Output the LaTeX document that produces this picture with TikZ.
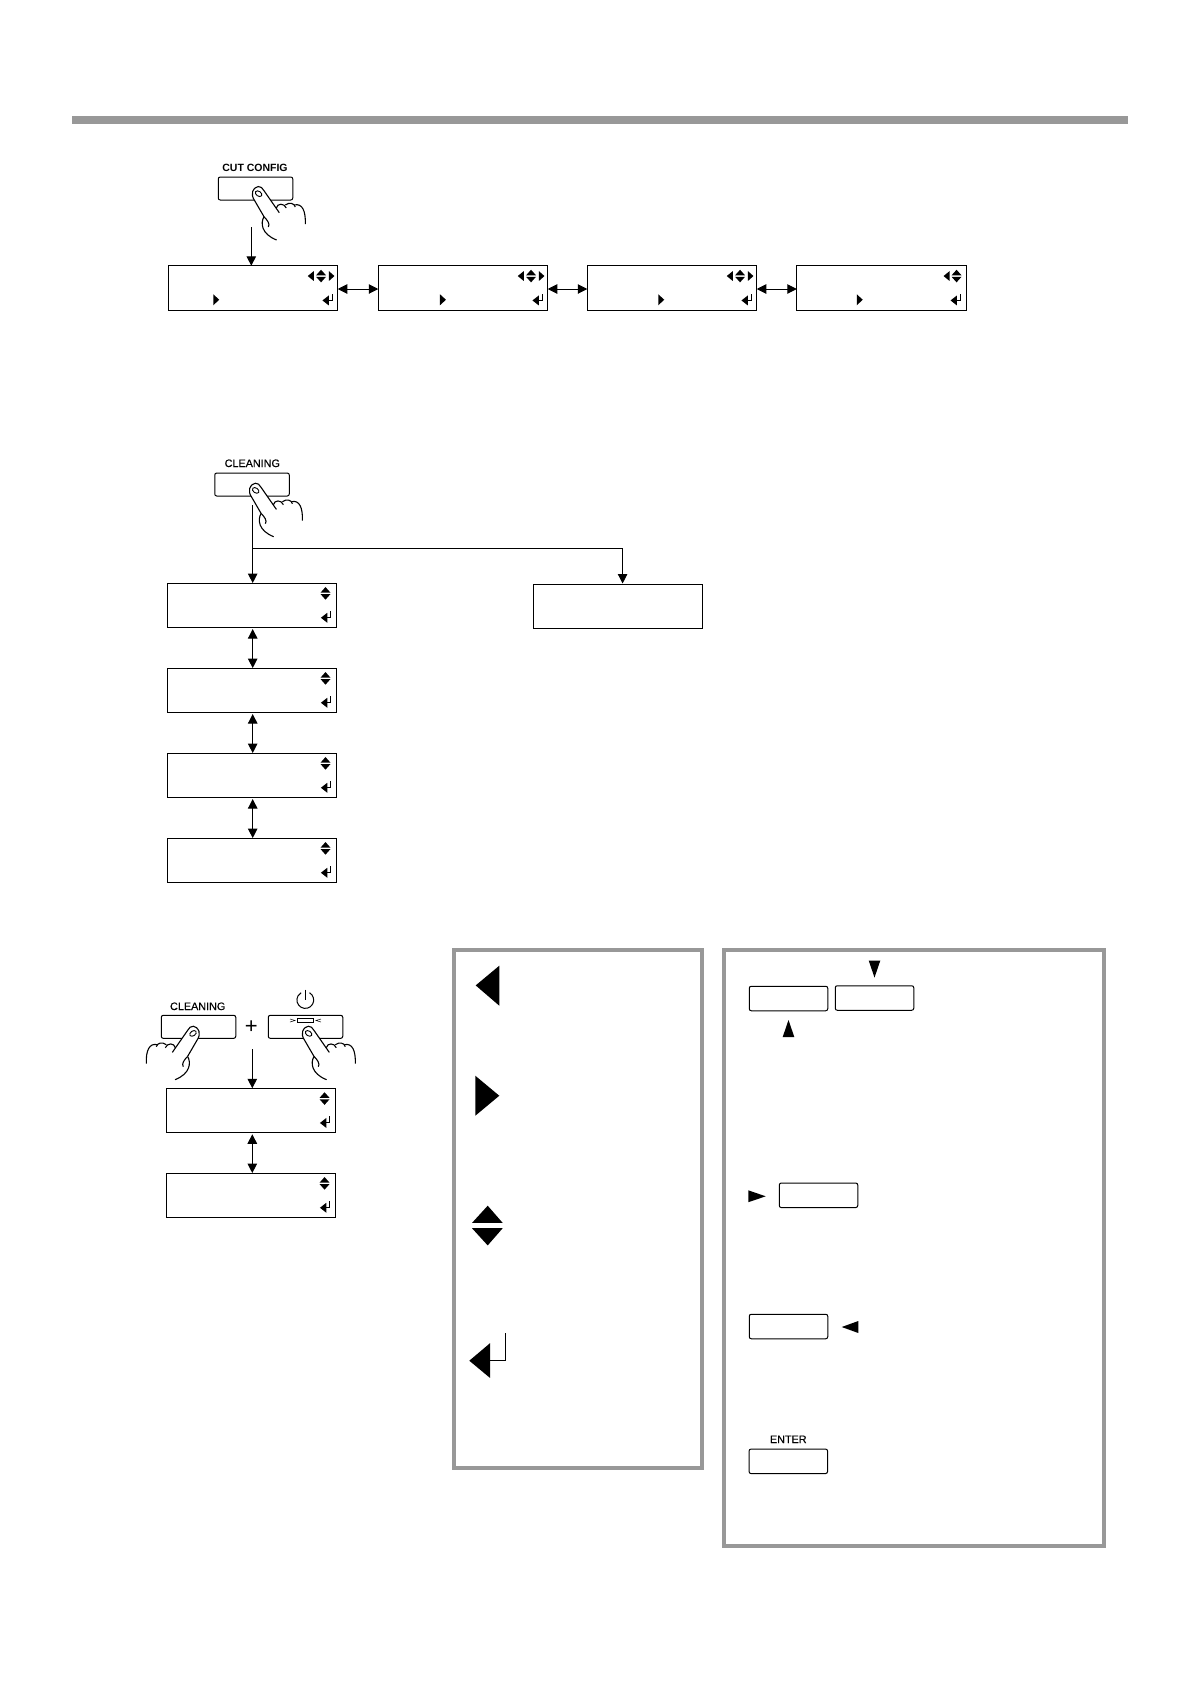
\documentclass[tikz,border=0pt]{standalone}
\usepackage{fontspec}
\setmainfont{Liberation Sans}
\newfontfamily\keyfont[FakeBold=0.4]{Liberation Sans}
\usetikzlibrary{arrows.meta}
\definecolor{framegray}{HTML}{989898}
\tikzset{
  lcd/.style={draw, line width=1pt, minimum width=169.5pt, minimum height=44.5pt, inner sep=0pt, outer sep=0pt},
  keybox/.style={draw, line width=1pt, rounded corners=2pt, minimum width=78.5pt, minimum height=24.5pt, inner sep=0pt, outer sep=0pt},
  panelkey/.style={keybox, minimum width=74.5pt, minimum height=23pt, fill=white},
  keytext/.style={font=\keyfont\fontsize{10.8}{12}\selectfont, inner sep=0pt},
  frame/.style={draw=framegray, line width=4pt, inner sep=0pt, outer sep=0pt},
  arr/.style={line width=1pt, -{Triangle[length=9.5pt,width=9.5pt]}},
  dbl/.style={line width=1pt, {Triangle[length=9.5pt,width=9.5pt]}-{Triangle[length=9.5pt,width=9.5pt]}},
  % hand pressing a key, origin at the finger tip
  presshand/.pic={
    \filldraw[fill=white, line width=1.1pt] (21,26.7) -- (5.7,4.7) .. controls (3,-1) and (-3,-1) .. (-5.7,5.7)
      .. controls (-6,9) and (-6,11) .. (-5,12.3) -- (5.7,30.7);
    \draw[line width=1.1pt] (5.7,30.7) .. controls (2,37) and (3,48) .. (18.3,54); % palm
    \draw[line width=1.1pt] (5.7,30.7) .. controls (9,34) and (12,38) .. (10,41);
    \draw[line width=1.1pt] (18,22) .. controls (19,17) and (26,17) .. (28,22);
    \draw[line width=1.1pt] (27,19) .. controls (31,16) and (36,17) .. (37,21);
    \draw[line width=1.1pt] (36,19) .. controls (44,17) and (47.5,25) .. (47,38);
    \draw[line width=.9pt, rotate around={-35:(0.3,7.7)}] (0.3,7.7) ellipse [x radius=3.6, y radius=2.4]; % nail
  },
  % marks in the corners of a display, origin at its north east corner
  leftmark/.pic={\fill (0,10.3) -- (6,5.4) -- (6,15.2) -- cycle;},
  rightmark/.pic={\fill (0,5.4) -- (0,15.2) -- (5.5,10.3) -- cycle;},
  updownmark/.pic={
    \fill (-5,9.6) -- (0,4) -- (5,9.6) -- cycle;
    \fill (-5,11) -- (0,16.6) -- (5,11) -- cycle;
  },
  entermark/.pic={
    \fill (0,34.7) -- (6.4,29.7) -- (6.4,39.7) -- cycle;
    \draw[line width=1pt] (6.4,34.7) -- (10,34.7) -- (10,28);
  },
  midmark/.pic={\fill (0,28.5) -- (0,39.5) -- (6,34) -- cycle;},
}
\begin{document}
\begin{tikzpicture}[x=1pt, y=-1pt]
  \useasboundingbox (0,0) rectangle (1190,1684);
  \fill[framegray] (72,116) rectangle (1128,124); % top rule

  % cut config
  \node[lcd] (cut1) at (253,288) {};
  \node[lcd] (cut2) at (463,288) {};
  \node[lcd] (cut3) at (672,288) {};
  \node[lcd] (cut4) at (881.5,288) {};
  \foreach \n in {cut1,cut2,cut3} {
    \pic at ([xshift=-30pt]\n.north east) {leftmark};
    \pic at ([xshift=-16.7pt]\n.north east) {updownmark};
    \pic at ([xshift=-8.8pt]\n.north east) {rightmark};
    \pic at ([xshift=-15.3pt]\n.north east) {entermark};
  }
  \pic at ([xshift=-22.7pt]cut4.north east) {leftmark};
  \pic at ([xshift=-9.7pt]cut4.north east) {updownmark};
  \pic at ([xshift=-15.7pt]cut4.north east) {entermark};
  \pic at ([xshift=45pt]cut1.north west) {midmark};
  \pic at ([xshift=61.7pt]cut2.north west) {midmark};
  \pic at ([xshift=71pt]cut3.north west) {midmark};
  \pic at ([xshift=60pt]cut4.north west) {midmark};
  \draw[dbl] ([yshift=-1pt]cut1.east) -- ([yshift=-1pt]cut2.west);
  \draw[dbl] ([yshift=-1pt]cut2.east) -- ([yshift=-1pt]cut3.west);
  \draw[dbl] ([yshift=-1pt]cut3.east) -- ([yshift=-1pt]cut4.west);
  \node[panelkey] (cutkey) at (255.5,188.5) {};
  \node[keytext, font=\fontsize{10.5}{12}\selectfont\bfseries] (cutlabel) at (255,167.5) {CUT CONFIG};
  \coordinate (cutstart) at (251.3,227.3);
  \draw[arr] (cutstart) -- (cutstart |- cut1.north);
  \pic at (258.3,186) {presshand};

  % cleaning
  \node[lcd, minimum width=169pt] (menu1) at (252.2,605.3) {};
  \node[lcd, minimum width=169pt] (menu2) at (252.2,690.3) {};
  \node[lcd, minimum width=169pt] (menu3) at (252.2,775.3) {};
  \node[lcd, minimum width=169pt] (menu4) at (252.2,860.3) {};
  \node[lcd, minimum width=169pt] (menu5) at (617.7,606.3) {};
  \foreach \n in {menu1,menu2,menu3,menu4} {
    \pic at ([xshift=-11.2pt]\n.north east) {updownmark};
    \pic at ([xshift=-15.8pt]\n.north east) {entermark};
  }
  \draw[dbl] ([xshift=.5pt,yshift=-1.5pt]menu1.south) -- ([xshift=.5pt]menu2.north);
  \draw[dbl] ([xshift=.5pt,yshift=-1.5pt]menu2.south) -- ([xshift=.5pt]menu3.north);
  \draw[dbl] ([xshift=.5pt,yshift=-1.5pt]menu3.south) -- ([xshift=.5pt]menu4.north);
  \coordinate (cleanstart) at (252.7,505);
  \coordinate (cleanfork) at (252.7,548.3);
  \draw[arr] (cleanstart) -- (cleanstart |- menu1.north);
  \draw[arr] (cleanfork) -- (622.6,548.3) -- (622.6,583.5);
  \node[panelkey] (cleankey) at (252,484.5) {};
  \node[keytext] (cleanlabel) at (252.3,463.3) {CLEANING};
  \pic at (255.4,482.7) {presshand};

  % cleaning plus power
  \node[lcd] (start1) at (251,1110.5) {};
  \node[lcd] (start2) at (251,1195.3) {};
  \foreach \n in {start1,start2} {
    \pic at ([xshift=-11.2pt]\n.north east) {updownmark};
    \pic at ([xshift=-15.8pt]\n.north east) {entermark};
  }
  \draw[dbl] ([xshift=1.3pt,yshift=-1.5pt]start1.south) -- ([xshift=1.3pt]start2.north);
  \coordinate (startgo) at (252.3,1049);
  \draw[arr] (startgo) -- (startgo |- start1.north);
  \node[panelkey] (holdkey) at (198.5,1026.8) {};
  \node[panelkey] (powerkey) at (305.5,1026.8) {};
  \node[keytext] (holdlabel) at (197.7,1006.3) {CLEANING};
  \node[keytext, font=\fontsize{22}{22}\selectfont] (plus) at (251.3,1027) {+};
  \node[draw, line width=1pt, minimum width=16.5pt, minimum height=3.8pt, inner sep=0pt] (led) at (305.6,1020.7) {};
  \draw[line width=1pt] (309.5,992.7) arc[start angle=-60, end angle=240, radius=8.4]; % power sign
  \draw[line width=1pt] (305.3,989.5) -- (305.3,1000);
  \draw[line width=.5pt] (290,1019) -- (295,1020.5) -- (290,1022);
  \draw[line width=.5pt] (321,1019) -- (316,1020.5) -- (321,1022);
  \pic[xscale=-1] at (193.3,1025.7) {presshand};
  \pic at (308.3,1025.7) {presshand};

  % symbols frame
  \node[frame, minimum width=248pt, minimum height=518pt] (symframe) at (578,1209) {};
  \fill (475.7,985.4) -- (499.3,965.7) -- (499.3,1005.7) -- cycle;
  \fill (475.3,1075.7) -- (475.3,1115.7) -- (499.3,1095.7) -- cycle;
  \fill (472,1222.9) -- (487.7,1205.7) -- (502.7,1222.9) -- cycle;
  \fill (472,1228.2) -- (487.7,1245.4) -- (502.7,1228.2) -- cycle;
  \fill (469.3,1360.7) -- (490,1343.2) -- (490,1377.9) -- cycle;
  \draw[line width=1pt] (490,1360.7) -- (505.7,1360.7) -- (505.7,1332.5);

  % keys frame
  \node[frame, minimum width=380pt, minimum height=596pt] (keyframe) at (914,1248) {};
  \node[keybox] (upkey) at (788.5,998.5) {};
  \node[keybox] (downkey) at (874.5,998) {};
  \fill (868.7,960.6) -- (880.3,960.6) -- (874.5,977.6) -- cycle;
  \fill (782.7,1037) -- (794.3,1037) -- (788.5,1020) -- cycle;
  \node[keybox] (rightkey) at (818.5,1195.3) {};
  \fill (748.3,1190.3) -- (748.3,1202.2) -- (765.7,1196.3) -- cycle;
  \node[keybox] (leftkey) at (788.5,1326.5) {};
  \fill (841.7,1327) -- (858.3,1321) -- (858.3,1333) -- cycle;
  \node[keybox] (enterkey) at (788.3,1461.3) {};
  \node[keytext] (enterlabel) at (788.3,1439.3) {ENTER};
\end{tikzpicture}
\end{document}
